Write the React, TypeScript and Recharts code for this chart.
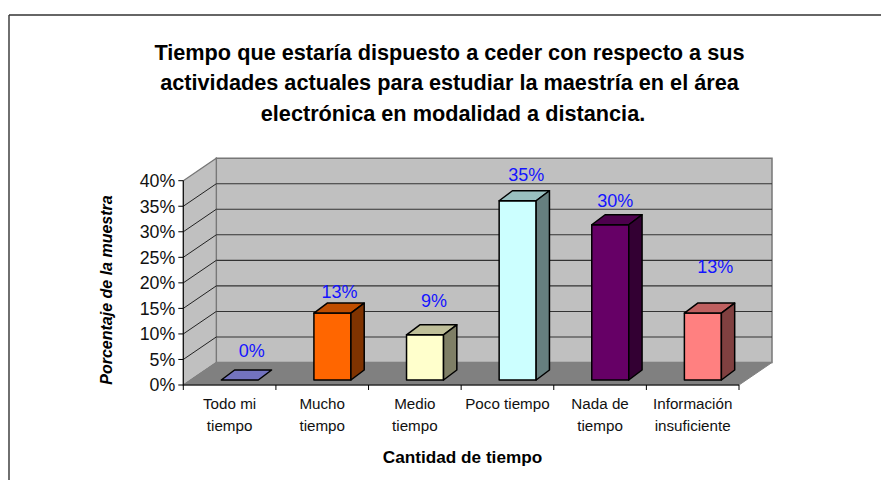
import React from "react";
import { BarChart, Bar, XAxis, YAxis, Cell, Customized, LabelList } from "recharts";

const titleLines = [
  "Tiempo que estaría dispuesto a ceder con respecto a sus",
  "actividades actuales para estudiar la maestría en el área",
  "electrónica en modalidad a distancia.",
];
const categories = ["Todo mi tiempo", "Mucho tiempo", "Medio tiempo", "Poco tiempo", "Nada de tiempo", "Información insuficiente"];
const categoryLines = [["Todo mi", "tiempo"], ["Mucho", "tiempo"], ["Medio", "tiempo"], ["Poco tiempo"], ["Nada de", "tiempo"], ["Información", "insuficiente"]];
const percentages = [0, 13.1, 8.85, 35.1, 30.4, 13.1];
const yTicks = [0, 5, 10, 15, 20, 25, 30, 35, 40];
const frontColors = ["#9999ff", "#ff6600", "#ffffcc", "#ccffff", "#660066", "#ff8080"];
const topColors = ["#7373bf", "#bf4d00", "#bfbf99", "#99bfbf", "#4d004d", "#bf6060"];
const sideColors = ["#4d4d80", "#7f3300", "#7f7f66", "#667f7f", "#330033", "#804040"];

const tableData = categories.map((category, i) => ({ category, value: percentages[i], index: i }));

const W = 881, H = 480;
const LEFT = 183.3, RIGHT = 739, TOP = 180.7, BOTTOM = 385;
const DX = 33, DY = -22.5;
const BAR_DX = 10, BAR_DY = -5, DEPTH_X = 13.3, DEPTH_Y = -10;
const FONT = "'Liberation Sans', Arial, sans-serif";
const labelShift = [
  [22, 23], [17, 14.7], [19, 28], [18.6, 20], [15, 18], [22.4, 40],
];

const poly = (pts: number[][]) => pts.map((p) => p.join(",")).join(" ");
const yOf = (t: number) => BOTTOM - (t / 40) * (BOTTOM - TOP);

function Backdrop() {
  return (
    <g>
      <line x1={9} y1={15} x2={W} y2={15} stroke="#333" strokeWidth={1.4} />
      <line x1={9} y1={15} x2={9} y2={H} stroke="#333" strokeWidth={1.4} />
      <text fontFamily={FONT} fontWeight="bold" fontSize={21.7} fill="#000" textAnchor="middle">
        {titleLines.map((t, i) => (
          <tspan key={i} x={i === 2 ? 453 : 449.5} y={59.5 + i * 30.5}>{t}</tspan>
        ))}
      </text>
      <polygon points={poly([[LEFT + DX, TOP + DY], [RIGHT + DX, TOP + DY], [RIGHT + DX, BOTTOM + DY], [LEFT + DX, BOTTOM + DY]])} fill="#c0c0c0" stroke="#777" strokeWidth={1.5} />
      <polygon points={poly([[LEFT, TOP], [LEFT + DX, TOP + DY], [LEFT + DX, BOTTOM + DY], [LEFT, BOTTOM]])} fill="#c0c0c0" stroke="#777" strokeWidth={1.3} />
      <polygon points={poly([[LEFT, BOTTOM], [LEFT + DX, BOTTOM + DY], [RIGHT + DX, BOTTOM + DY], [RIGHT, BOTTOM]])} fill="#808080" stroke="#808080" />
      {yTicks.filter((t) => t > 0 && t < 40).map((t) => (
        <g key={t}>
          <line x1={LEFT + DX} y1={yOf(t) + DY} x2={RIGHT + DX} y2={yOf(t) + DY} stroke="#333" strokeWidth={1.1} />
          <line x1={LEFT} y1={yOf(t)} x2={LEFT + DX} y2={yOf(t) + DY} stroke="#222" strokeWidth={1} />
        </g>
      ))}
    </g>
  );
}

function Bar3D(props: any) {
  const { x, y, width, height, index } = props;
  const x0 = x + BAR_DX, y0 = y + BAR_DY, x1 = x0 + width, y1 = y0 + height;
  return (
    <g stroke="#000" strokeWidth={1.5} strokeLinejoin="round">
      {height > 0 && <rect x={x0} y={y0} width={width} height={height} fill={frontColors[index]} />}
      <polygon points={poly([[x0, y0], [x0 + DEPTH_X, y0 + DEPTH_Y], [x1 + DEPTH_X, y0 + DEPTH_Y], [x1, y0]])} fill={topColors[index]} />
      {height > 0 && <polygon points={poly([[x1, y0], [x1 + DEPTH_X, y0 + DEPTH_Y], [x1 + DEPTH_X, y1 + DEPTH_Y], [x1, y1]])} fill={sideColors[index]} />}
    </g>
  );
}

function ValueLabel(props: any) {
  const { x, y, width, value, index } = props;
  const [sx, sy] = labelShift[index];
  return (
    <text x={x + width / 2 + sx} y={y + BAR_DY - sy} textAnchor="middle" fontFamily={FONT} fontSize={18} fill="#1414ff">
      {Math.round(value)}%
    </text>
  );
}

function CategoryTick(props: any) {
  const { x, payload, index } = props;
  const half = (RIGHT - LEFT) / categories.length / 2;
  return (
    <g>
      <line x1={x - half} y1={BOTTOM} x2={x - half} y2={BOTTOM + 5} stroke="#000" />
      {index === categories.length - 1 && <line x1={x + half} y1={BOTTOM} x2={x + half} y2={BOTTOM + 5} stroke="#000" />}
      <text textAnchor="middle" fontFamily={FONT} fontSize={15.2} fill="#111">
        {categoryLines[categories.indexOf(payload.value)].map((t, i) => (
          <tspan key={i} x={x} y={409 + i * 22}>{t}</tspan>
        ))}
      </text>
    </g>
  );
}

function XTitle() {
  return <text x={462.5} y={463} textAnchor="middle" fontFamily={FONT} fontWeight="bold" fontSize={17.2} fill="#000">Cantidad de tiempo</text>;
}

function YTitle() {
  return <text transform="translate(112,290) rotate(-90)" textAnchor="middle" fontFamily={FONT} fontWeight="bold" fontStyle="italic" fontSize={16} fill="#000">Porcentaje de la muestra</text>;
}

export default function App() {
  return (
    <div style={{ position: "absolute", left: 0, top: 0, width: W, height: H, background: "#fff" }}>
      <BarChart
        width={W}
        height={H}
        data={tableData}
        margin={{ top: TOP, right: W - RIGHT, bottom: H - BOTTOM - 40, left: LEFT - 60 }}
      >
        <Customized component={<Backdrop />} />
        <XAxis dataKey="category" height={40} interval={0} stroke="#000" tick={<CategoryTick />} tickLine={false} label={<XTitle />} />
        <YAxis
          width={60}
          domain={[0, 40]}
          ticks={yTicks}
          interval={0}
          tickFormatter={(v: number) => `${v}%`}
          stroke="#000"
          tickSize={5}
          tickMargin={3}
          tick={{ fontFamily: FONT, fontSize: 17.8, fill: "#111" }}
          label={<YTitle />}
        />
        <Bar dataKey="value" barSize={37} isAnimationActive={false} shape={<Bar3D />}>
          {tableData.map((d) => <Cell key={d.index} fill={frontColors[d.index]} />)}
          <LabelList dataKey="value" content={<ValueLabel />} />
        </Bar>
      </BarChart>
    </div>
  );
}
